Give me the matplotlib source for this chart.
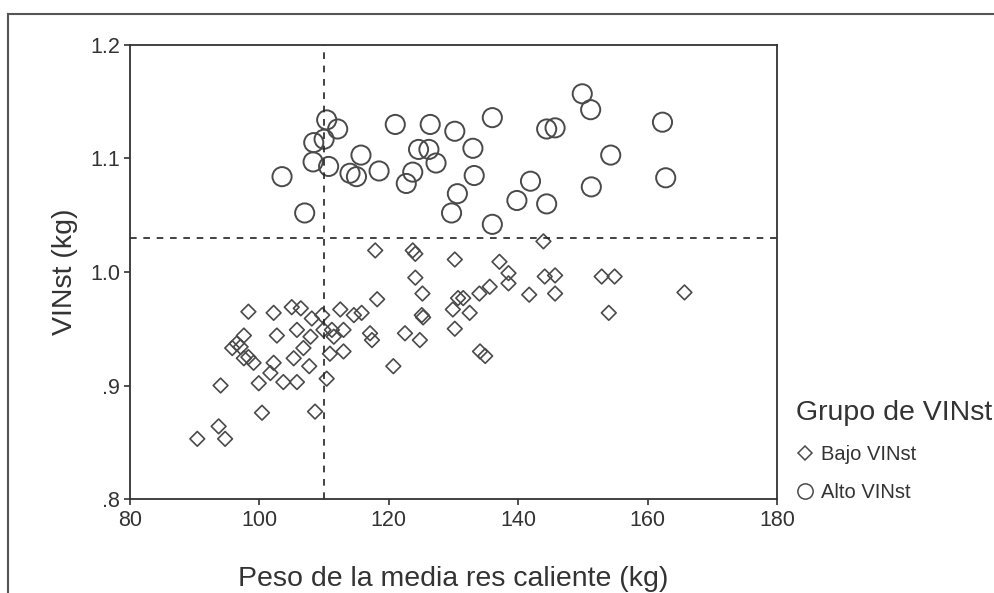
import matplotlib
matplotlib.use('Agg')
import matplotlib.pyplot as plt
from matplotlib.lines import Line2D

plt.rcParams['font.family'] = ['Liberation Sans', 'DejaVu Sans']

# Alto VINst (circles)
alto_peso = [110.4, 112.1, 110.0, 108.4, 108.3, 110.7, 115.7, 103.5, 114.0, 115.0,
             118.5, 121.0, 126.4, 130.2, 124.6, 126.2, 127.3, 123.7, 122.7, 107.0,
             130.6, 129.7, 136.0, 133.0, 133.2, 136.0, 141.9, 139.8, 144.4, 144.4,
             145.7, 149.9, 151.2, 154.3, 151.3, 162.3, 162.8]
alto_vinst = [1.134, 1.126, 1.117, 1.114, 1.097, 1.093, 1.103, 1.084, 1.087, 1.084,
              1.089, 1.130, 1.130, 1.124, 1.108, 1.108, 1.096, 1.088, 1.078, 1.052,
              1.069, 1.052, 1.136, 1.109, 1.085, 1.042, 1.080, 1.063, 1.060, 1.126,
              1.127, 1.157, 1.143, 1.103, 1.075, 1.132, 1.083]

# Bajo VINst (diamonds)
bajo_peso = [117.9, 123.7, 124.1, 130.2, 124.1, 125.2, 125.1, 125.3, 118.2, 122.5,
             124.8, 120.7, 129.9, 130.2, 130.7, 117.1, 117.4, 115.8, 114.6, 112.5,
             113.0, 113.0, 111.2, 111.5, 109.9, 109.7, 108.1, 107.9, 110.9, 110.4,
             108.6, 107.7, 106.8, 105.3, 105.8, 103.7, 105.0, 106.4, 102.2, 102.7,
             105.8, 102.2, 101.7, 99.9, 100.4, 98.3, 97.6, 95.8, 96.5, 97.1,
             97.6, 98.3, 99.1, 94.0, 93.7, 94.7, 90.4,
             143.9, 137.1, 138.5, 138.5, 135.6, 134.0, 131.5, 132.5, 134.1, 134.9,
             144.1, 145.7, 141.7, 145.7, 152.9, 154.9, 154.0, 165.7]
bajo_vinst = [1.019, 1.019, 1.016, 1.011, 0.995, 0.981, 0.962, 0.960, 0.976, 0.946,
              0.940, 0.917, 0.967, 0.950, 0.977, 0.946, 0.940, 0.964, 0.962, 0.967,
              0.949, 0.930, 0.949, 0.943, 0.949, 0.962, 0.959, 0.943, 0.928, 0.906,
              0.877, 0.917, 0.933, 0.924, 0.903, 0.903, 0.969, 0.968, 0.964, 0.944,
              0.949, 0.920, 0.911, 0.902, 0.876, 0.965, 0.944, 0.933, 0.937, 0.934,
              0.924, 0.925, 0.920, 0.900, 0.864, 0.853, 0.853,
              1.027, 1.009, 0.999, 0.990, 0.987, 0.981, 0.977, 0.964, 0.930, 0.926,
              0.996, 0.997, 0.980, 0.981, 0.996, 0.996, 0.964, 0.982]

corte_peso = 110
corte_vinst = 1.03

x_ticks = [80, 100, 120, 140, 160, 180]
y_ticks = [0.8, 0.9, 1.0, 1.1, 1.2]
y_tick_labels = ['.8', '.9', '1.0', '1.1', '1.2']

ink = '#333333'
mark = '#4a4a4a'

fig = plt.figure(figsize=(9.95, 5.93), dpi=100)
ax = fig.add_axes([130 / 995, 94 / 593, 647 / 995, 454 / 593])

ax.scatter(bajo_peso, bajo_vinst, marker='D', s=56, facecolors='none',
           edgecolors=mark, linewidths=1.2, label='Bajo VINst')
ax.scatter(alto_peso, alto_vinst, marker='o', s=190, facecolors='none',
           edgecolors=mark, linewidths=1.4, label='Alto VINst')

# reference lines
ax.axvline(corte_peso, color='#222222', linestyle=(0, (4, 4)), linewidth=1.2)
ax.axhline(corte_vinst, color='#222222', linestyle=(0, (4, 4)), linewidth=1.2)

ax.set_xlim(80, 180)
ax.set_ylim(0.8, 1.2)
ax.set_xticks(x_ticks)
ax.set_yticks(y_ticks)
ax.set_yticklabels(y_tick_labels)
ax.tick_params(axis='both', direction='out', length=4, width=1.2,
               colors=ink, labelsize=15.5)
ax.tick_params(axis='x', pad=4)
ax.tick_params(axis='y', pad=3)
for sp in ax.spines.values():
    sp.set_color(ink)
    sp.set_linewidth(1.3)

ax.set_xlabel('Peso de la media res caliente (kg)', fontsize=20.5, color=ink,
              labelpad=25)
ax.set_ylabel('VINst (kg)', fontsize=20.5, color=ink, labelpad=9)

# legend outside to the right
handles = [
    Line2D([], [], marker='D', linestyle='none', markersize=7,
           markerfacecolor='none', markeredgecolor=mark, markeredgewidth=1.1),
    Line2D([], [], marker='o', linestyle='none', markersize=11,
           markerfacecolor='none', markeredgecolor=mark, markeredgewidth=1.1),
]
leg = fig.legend(handles, ['Bajo VINst', 'Alto VINst'], loc='upper left',
                 bbox_to_anchor=(786 / 995, 1 - 390 / 593), frameon=False,
                 fontsize=14.5, title='Grupo de VINst', title_fontsize=20.5,
                 handlelength=0.9, handletextpad=0.35, labelspacing=0.95,
                 borderpad=0, alignment='left')
for t in leg.get_texts():
    t.set_color(ink)
leg.get_title().set_color(ink)

# scanned page frame
fig.add_artist(Line2D([8 / 995, 1], [1 - 14 / 593, 1 - 14 / 593],
                      transform=fig.transFigure, color='#555555', linewidth=1.5))
fig.add_artist(Line2D([8 / 995, 8 / 995], [0, 1 - 14 / 593],
                      transform=fig.transFigure, color='#555555', linewidth=1.5))

fig.savefig('out.png', dpi=100, facecolor='white')
